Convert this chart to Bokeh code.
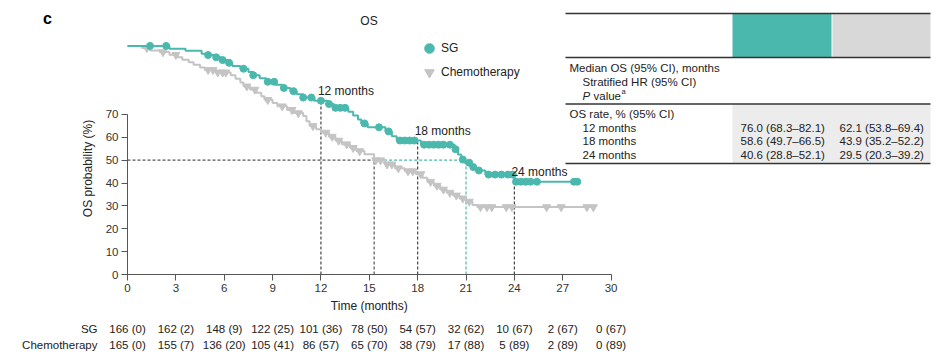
import numpy as np
from bokeh.plotting import figure
from bokeh.models import (Range1d, Label, LabelSet, ColumnDataSource, FixedTicker,
                          Legend, LegendItem)
from bokeh.core.properties import value
from bokeh.embed import file_html
from bokeh.resources import INLINE

# ---------------- data ----------------
sg_times = [0, 2.6, 3.6, 4.6, 5.0, 5.4, 5.8, 6.2, 6.5, 7.0, 7.5, 7.8, 8.2, 8.6, 9.2, 9.6,
            10.1, 10.5, 10.9, 11.6, 12.4, 12.8, 13.7, 14.0, 14.3, 14.5, 14.9, 16.0, 16.4,
            16.7, 18.2, 20.3, 20.5, 20.7, 20.9, 21.3, 21.6, 22.2, 24.0]
sg_surv = [100, 98.7, 97.9, 96.6, 96.0, 95.0, 93.8, 92.6, 91.2, 90.0, 88.6, 87.2, 85.8, 84.3,
           83.0, 81.6, 80.2, 78.8, 77.4, 76.0, 74.6, 72.9, 71.2, 69.5, 67.8, 66.1, 64.4, 62.6,
           60.5, 58.6, 56.8, 54.8, 52.5, 50.3, 48.9, 47.0, 45.5, 43.7, 40.6]
sg_end = 27.9
sg_censor = [1.4, 2.4, 5.0, 5.5, 5.9, 6.3, 7.2, 7.8, 8.7, 9.1, 9.7, 10.3, 10.9, 11.4, 12.0,
             12.5, 12.9, 13.2, 13.5, 14.7, 15.6, 16.2, 16.9, 17.2, 17.5, 17.8, 18.4, 18.7,
             19.0, 19.3, 19.6, 20.0, 20.35, 20.8, 21.2, 21.45, 21.8, 22.4, 22.8, 23.2, 23.6,
             23.9, 24.1, 24.4, 24.7, 25.0, 25.4, 27.7, 27.9]

chemo_times = [0, 0.9, 1.4, 2.0, 2.6, 3.1, 3.4, 3.8, 4.1, 4.5, 4.8, 5.5, 6.4, 6.7, 7.0, 7.2,
               7.6, 8.0, 8.3, 8.5, 9.0, 9.3, 9.9, 10.3, 10.9, 11.1, 11.3, 11.7, 12.0, 12.5,
               12.9, 13.3, 13.8, 14.2, 14.7, 15.3, 16.0, 16.6, 17.2, 17.9, 18.3, 18.6, 19.0,
               19.4, 19.8, 20.2, 20.6, 21.0, 21.4, 21.7]
chemo_surv = [100, 99.1, 98.0, 97.3, 96.1, 95.0, 93.9, 92.8, 91.7, 90.6, 89.5, 88.4, 87.2,
              85.6, 84.0, 82.3, 80.9, 79.5, 78.0, 76.4, 75.0, 73.6, 72.0, 70.6, 69.3, 67.0,
              65.0, 63.5, 62.1, 60.3, 58.6, 57.0, 55.4, 54.0, 52.6, 50.0, 48.2, 46.5, 45.2,
              43.9, 42.3, 40.6, 38.9, 37.2, 35.8, 34.6, 33.3, 31.9, 30.4, 29.5]
chemo_end = 29.0
chemo_censor = [1.2, 2.2, 3.0, 5.0, 5.3, 5.6, 5.9, 6.1, 7.4, 7.9, 8.7, 9.6, 10.2, 10.6, 11.5,
                12.3, 12.7, 13.1, 13.6, 14.0, 14.4, 15.4, 15.7, 16.1, 16.4, 16.8, 17.4, 17.7,
                18.2, 18.8, 19.2, 19.6, 20.0, 20.4, 20.8, 21.2, 21.9, 22.3, 22.6, 23.5, 23.85,
                26.0, 26.9, 28.5, 28.9]

landmarks = [12, 18, 24]
landmark_labels = ["12 months", "18 months", "24 months"]
sg_rate = [76.0, 58.6, 40.6]
sg_lo = [68.3, 49.7, 28.8]
sg_hi = [82.1, 66.5, 52.1]
chemo_rate = [62.1, 43.9, 29.5]
chemo_lo = [53.8, 35.2, 20.3]
chemo_hi = [69.4, 52.2, 39.2]
sg_median = 21.0
chemo_median = 15.3

risk_months = [0, 3, 6, 9, 12, 15, 18, 21, 24, 27, 30]
sg_at_risk = [166, 162, 148, 122, 101, 78, 54, 32, 10, 2, 0]
sg_cum_events = [0, 2, 9, 25, 36, 50, 57, 62, 67, 67, 67]
chemo_at_risk = [165, 155, 136, 105, 86, 65, 38, 17, 5, 2, 0]
chemo_cum_events = [0, 7, 20, 41, 57, 70, 79, 88, 89, 89, 89]

x_ticks = [0, 3, 6, 9, 12, 15, 18, 21, 24, 27, 30]
y_ticks = [0, 10, 20, 30, 40, 50, 60, 70]

# ---------------- styles / layout ----------------
TEAL = "#4bb8ad"
GREY = "#c4c4c4"
DARK = "#222222"
AX = "#555555"
FONT = "Liberation Sans"
FS = "11.5px"

W, H = 940, 362
X0_PX, XS = 127, 16.12      # canvas px of month 0, px per month
Y0_PX, YS = 274, 2.286      # canvas px of 0 %, px per %


def dx(px):
    return (px - X0_PX) / XS


def dy(py):
    return (Y0_PX - py) / YS


def step_value(times, surv, t):
    i = np.searchsorted(times, t, side="right") - 1
    return np.asarray(surv)[i]


p = figure(width=W, height=H, x_range=Range1d(dx(0), dx(W)), y_range=Range1d(dy(H), dy(0)),
           output_backend="svg", toolbar_location=None,
           min_border_left=0, min_border_right=0, min_border_top=0, min_border_bottom=0)
p.title.visible = False
p.outline_line_color = None
p.xgrid.visible = False
p.ygrid.visible = False

# axes (fixed at the data origin)
for ax, ticks, bnds in ((p.xaxis, x_ticks, (0, 30)), (p.yaxis, y_ticks, (0, 70))):
    ax.fixed_location = 0
    ax.ticker = FixedTicker(ticks=ticks)
    ax.bounds = bnds
    ax.axis_line_color = AX
    ax.major_tick_line_color = AX
    ax.minor_tick_line_color = None
    ax.major_tick_in = 0
    ax.major_tick_out = 6
    ax.major_label_text_font = FONT
    ax.major_label_text_font_size = FS
    ax.major_label_text_color = "#333333"
    ax.major_label_standoff = 3

# reference lines
p.segment(x0=landmarks, y0=[0] * 3, x1=landmarks, y1=sg_rate,
          line_color="#444444", line_dash="3 2", line_width=1.2)
p.segment(x0=[chemo_median, 0], y0=[0, 50], x1=[chemo_median, chemo_median], y1=[50, 50],
          line_color="#555555", line_dash="3 2", line_width=1.2)
p.segment(x0=[sg_median, chemo_median], y0=[0, 50], x1=[sg_median, sg_median], y1=[50, 50],
          line_color=TEAL, line_dash="3 2", line_width=1.2)

# curves
ch_x = chemo_times + [chemo_end]
ch_y = chemo_surv + [chemo_surv[-1]]
p.step(ch_x, ch_y, mode="after", line_color=GREY, line_width=2)
ch_c = p.scatter(chemo_censor, step_value(chemo_times, chemo_surv, chemo_censor),
                 marker="inverted_triangle", size=8, fill_color=GREY, line_color=GREY)

sg_x = sg_times + [sg_end]
sg_y = sg_surv + [sg_surv[-1]]
p.step(sg_x, sg_y, mode="after", line_color=TEAL, line_width=2)
sg_c = p.scatter(sg_censor, step_value(sg_times, sg_surv, sg_censor),
                 marker="circle", size=7, fill_color=TEAL, line_color=TEAL)

# landmark labels
for m, r, t in zip(landmarks, sg_rate, landmark_labels):
    p.add_layout(Label(x=m, y=r, text=t, x_offset=-3, y_offset=10, text_font=FONT,
                       text_font_size="12px", text_color=DARK, text_baseline="middle"))

# legend
legend = Legend(items=[LegendItem(label="SG", renderers=[sg_c]),
                       LegendItem(label="Chemotherapy", renderers=[ch_c])],
                location=(417, H - 84), glyph_width=24, glyph_height=24,
                label_height=24, spacing=-6, padding=0, margin=0, label_standoff=0,
                border_line_color=None, background_fill_alpha=0,
                label_text_font=FONT, label_text_font_size="12px", label_text_color=DARK)
p.add_layout(legend)

# titles
p.add_layout(Label(x=dx(47), y=dy(18), text="c", text_font="Liberation Sans",
                   text_font_style="bold", text_font_size="16px", text_color="#000000",
                   text_align="center", text_baseline="middle"))
p.add_layout(Label(x=dx(368.5), y=dy(20), text="OS", text_font=FONT, text_font_size="12px",
                   text_color=DARK, text_align="center", text_baseline="middle"))
p.add_layout(Label(x=dx(87), y=dy(168), text="OS probability (%)", angle=np.pi / 2,
                   text_font=FONT, text_font_size="12px", text_color=DARK,
                   text_align="center", text_baseline="middle"))
p.add_layout(Label(x=15, y=dy(305), text="Time (months)", text_font=FONT,
                   text_font_size="12px", text_color=DARK, text_align="center",
                   text_baseline="middle"))

# number at risk
risk_src = ColumnDataSource(dict(
    x=risk_months,
    sg=[f"{n} ({e})" for n, e in zip(sg_at_risk, sg_cum_events)],
    ch=[f"{n} ({e})" for n, e in zip(chemo_at_risk, chemo_cum_events)]))
for col, ypx in (("sg", 328), ("ch", 344)):
    p.add_layout(LabelSet(x="x", y=dy(ypx), text=col, source=risk_src, text_font=value(FONT),
                          text_font_size=value(FS), text_color=DARK, text_align="center",
                          text_baseline="middle"))
for t, ypx in (("SG", 328), ("Chemotherapy", 344)):
    p.add_layout(Label(x=dx(97), y=dy(ypx), text=t, text_font=FONT, text_font_size=FS,
                       text_color=DARK, text_align="right", text_baseline="middle"))

# summary table (top right)
p.quad(left=[dx(732), dx(832)], right=[dx(831), dx(930)], top=[dy(13)] * 2,
       bottom=[dy(57)] * 2, fill_color=[TEAL, "#d8d8d8"], line_color=None)
p.quad(left=[dx(732)], right=[dx(930)], top=[dy(104)], bottom=[dy(162)],
       fill_color="#ececec", line_color=None)
rule_y = [13, 57, 103.5, 163]
p.segment(x0=[dx(565)] * 4, x1=[dx(930)] * 4, y0=[dy(v) for v in rule_y],
          y1=[dy(v) for v in rule_y], line_color="#333333", line_width=1.3)

tab_x, tab_y, tab_t = [], [], []
for t, xp, yp in (("Median OS (95% CI), months", 569, 67),
                  ("Stratified HR (95% CI)", 582, 81),
                  ("value", 593, 95),
                  ("OS rate, % (95% CI)", 569, 113)):
    tab_x.append(dx(xp)); tab_y.append(dy(yp)); tab_t.append(t)
row_y = [127, 140.5, 154]
for lab, ry in zip(landmark_labels, row_y):
    tab_x.append(dx(582)); tab_y.append(dy(ry)); tab_t.append(lab)
for r, lo, hi, ry in zip(sg_rate, sg_lo, sg_hi, row_y):
    tab_x.append(dx(740)); tab_y.append(dy(ry)); tab_t.append(f"{r:.1f} ({lo:.1f}\u2013{hi:.1f})")
for r, lo, hi, ry in zip(chemo_rate, chemo_lo, chemo_hi, row_y):
    tab_x.append(dx(839)); tab_y.append(dy(ry)); tab_t.append(f"{r:.1f} ({lo:.1f}\u2013{hi:.1f})")
p.text(x=tab_x, y=tab_y, text=tab_t, text_font=value(FONT), text_font_size=FS,
       text_color=DARK, text_baseline="middle", text_align="left")
p.text(x=[dx(582)], y=[dy(95)], text=["P"], text_font=value(FONT), text_font_size=FS,
       text_font_style="italic", text_color=DARK, text_baseline="middle")
p.text(x=[dx(621)], y=[dy(91)], text=["a"], text_font=value(FONT), text_font_size="7.5px",
       text_color=DARK, text_baseline="middle")

open("out.html", "w").write(file_html(p, INLINE))
